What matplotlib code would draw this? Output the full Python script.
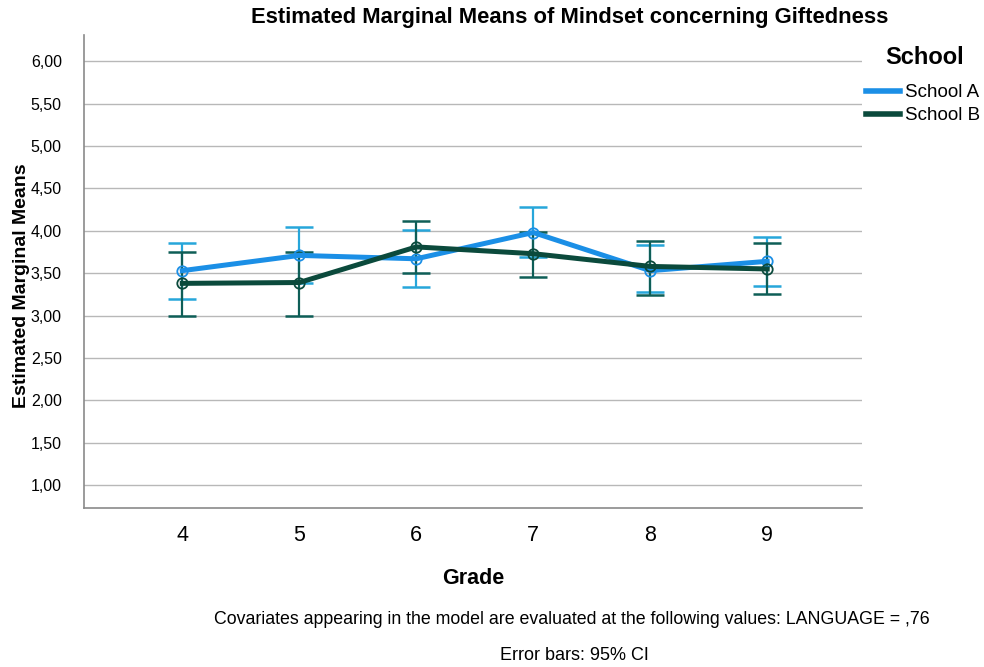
import matplotlib
matplotlib.use("Agg")
import matplotlib.pyplot as plt
from matplotlib.lines import Line2D
import numpy as np

plt.rcParams['font.family'] = ['Liberation Sans', 'DejaVu Sans']

grades = [4, 5, 6, 7, 8, 9]
a_mean = [3.53, 3.71, 3.67, 3.98, 3.53, 3.64]
a_low = [3.20, 3.38, 3.34, 3.69, 3.28, 3.35]
a_high = [3.86, 4.04, 4.01, 4.28, 3.83, 3.93]
b_mean = [3.38, 3.39, 3.81, 3.73, 3.58, 3.55]
b_low = [2.99, 2.99, 3.50, 3.45, 3.24, 3.25]
b_high = [3.75, 3.75, 4.12, 3.99, 3.88, 3.86]
yticks = [1.0, 1.5, 2.0, 2.5, 3.0, 3.5, 4.0, 4.5, 5.0, 5.5, 6.0]

col_a = '#1b8fe6'
col_a_err = '#27a6da'
col_b = '#0b4a3c'
col_b_err = '#0e5e57'

fig = plt.figure(figsize=(9.84, 6.67), dpi=100)
ax = fig.add_axes([0.0854, 0.2384, 0.7906, 0.7091])

x = np.array(grades, dtype=float)
for mean, lo, hi, ce in [(a_mean, a_low, a_high, col_a_err),
                         (b_mean, b_low, b_high, col_b_err)]:
    mean = np.array(mean); lo = np.array(lo); hi = np.array(hi)
    ax.errorbar(x, mean, yerr=[mean - lo, hi - mean], fmt='none',
                ecolor=ce, elinewidth=1.6, capsize=10, capthick=1.8, zorder=3)
for mean, c in [(a_mean, col_a), (b_mean, col_b)]:
    ax.plot(x, mean, color=c, lw=3.6, marker='o', markersize=7.5,
            markerfacecolor='none', markeredgecolor=c, markeredgewidth=1.3,
            zorder=4, solid_joinstyle='round')

ax.set_xlim(3.16, 9.81)
ax.set_ylim(0.73, 6.31)
ax.set_yticks(yticks)
ax.set_yticklabels([f"{v:.2f}".replace('.', ',') for v in yticks], fontsize=11.5)
ax.set_xticks(grades)
ax.set_xticklabels([str(g) for g in grades], fontsize=15.5)
ax.tick_params(axis='x', length=0, pad=12)
ax.tick_params(axis='y', length=0, pad=16)
for v in yticks:
    ax.axhline(v, color='#b8b8b8', lw=1.0, zorder=1)
for s in ['top', 'right']:
    ax.spines[s].set_visible(False)
for s in ['left', 'bottom']:
    ax.spines[s].set_color('#8a8a8a')
    ax.spines[s].set_linewidth(1.2)

fig.text(570 / 984, 1 - 18 / 667, 'Estimated Marginal Means of Mindset concerning Giftedness',
         fontsize=15.8, fontweight='bold', ha='center', va='center')
ax.set_xlabel('Grade', fontsize=15.5, fontweight='bold', labelpad=16)
ax.set_ylabel('Estimated Marginal Means', fontsize=14, fontweight='bold')
ax.yaxis.set_label_coords(-0.07, 0.471)

fig.text(925 / 984, 1 - 57 / 667, 'School', fontsize=17, fontweight='bold',
         ha='center', va='center')
handles = [Line2D([0], [0], color=col_a, lw=4), Line2D([0], [0], color=col_b, lw=4)]
fig.legend(handles, ['School A', 'School B'],
           loc='upper left', bbox_to_anchor=(0.880, 0.874), frameon=False,
           fontsize=13.5, borderpad=0, borderaxespad=0,
           handlelength=1.8, handletextpad=0.3, labelspacing=0.32)

fig.text(572 / 984, 1 - 619 / 667,
         'Covariates appearing in the model are evaluated at the following values: LANGUAGE = ,76',
         ha='center', va='center', fontsize=12.8)
fig.text(574 / 984, 1 - 655 / 667, 'Error bars: 95% CI', ha='center', va='center', fontsize=13)

fig.savefig('out.png', dpi=100)
